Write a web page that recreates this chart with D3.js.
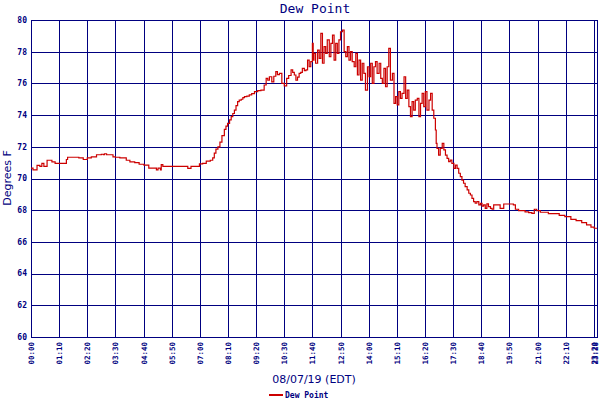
<!DOCTYPE html>
<html><head><meta charset="utf-8">
<script src="https://cdn.jsdelivr.net/npm/d3@7"></script>
<style>body{margin:0;background:#fff}svg{display:block}</style>
</head><body>
<script>
// ---- data ----
const minutes = [
0,5,15,22,27,32,40,52,60,88,91,119,130,140,150,163,175,180,183,188,204,210,221,237,246,258,269,281,293,312,316,322,324,328,390,398,419,427,436,446,452,456,460,465,470,475,481,485,489,494,498,502,506,510,514,518,523,527,531,537,543,549,556,564,572,580,585,589,593,599,604,609,613,618,624,630,636,641,647,651,655,659,663,667,671,675,680,684,
688,692,696,700,702,704,708,713,717,721,725,729,733,737,742,746,750,754,758,762,766,770,775,779,783,787,791,795,799,804,808,812,816,820,824,828,832,837,841,845,849,853,857,861,866,870,874,878,882,886,890,894,899,
903,907,911,915,919,923,928,932,936,940,944,948,952,956,961,965,969,973,977,981,985,990,994,998,1002,1006,1008,1010,1014,1018,1023,1027,1031,1035,1039,1043,1047,1052,1056,1060,1064,1068,1072,1076,1080,1085,1089,1093,1097,1101,1105,1109,1114,1118,
1122,1126,1130,1134,1138,1143,1147,1151,1163,1167,1176,1200,1205,1213,1229,1238,1246,1252,1258,1267,1287,1314,1328,1343,1356,1370,1382,1393,1401,1408];
const dewPoint = [
70.65,70.54,70.83,70.77,70.96,70.77,71.15,71.05,70.96,71.2,71.34,71.3,71.2,71.3,71.37,71.5,71.53,71.5,71.56,71.5,71.37,71.34,71.3,71.15,71.05,71.0,70.9,70.85,70.66,70.54,70.66,70.54,70.88,70.77,70.64,70.77,70.92,70.96,71.1,71.15,71.3,71.6,71.85,72.0,72.3,72.7,73.1,73.3,73.48,73.7,73.9,74.1,74.32,74.6,74.85,74.95,75.0,75.1,75.16,75.2,75.27,75.35,75.48,75.54,75.58,75.9,76.32,76.2,76.42,76.1,76.45,76.74,76.55,76.63,76.0,75.85,76.32,76.5,76.85,76.7,76.53,76.2,76.4,76.63,76.7,76.95,76.8,76.85,
77.47,77.05,77.37,78.53,77.47,77.9,77.27,78.1,77.58,79.16,77.27,78.32,77.9,78.74,77.69,78.53,79.05,77.47,78.53,77.9,78.74,79.26,79.37,78.0,77.69,78.32,77.47,78.0,77.37,77.05,77.9,76.53,77.47,76.21,77.27,76.63,75.58,77.05,76.42,77.27,76.0,77.05,77.37,76.63,77.27,76.32,76.0,76.95,75.79,77.05,78.21,76.21,76.63,
74.74,75.16,74.64,75.48,75.06,75.37,76.42,75.06,75.58,74.53,73.9,74.85,74.32,74.95,75.06,73.9,74.74,75.37,74.53,75.48,74.32,74.95,75.37,74.32,73.8,73.06,72.22,71.9,71.48,71.9,72.22,71.8,71.48,71.27,71.06,71.16,70.96,70.64,70.85,70.64,70.33,70.12,69.9,69.7,69.49,69.28,69.07,68.96,68.75,68.54,68.44,68.54,68.33,68.44,
68.26,68.33,68.12,68.4,68.23,68.12,68.06,68.33,68.33,68.12,68.39,68.33,68.06,67.97,67.9,67.85,67.8,68.06,67.97,67.87,67.78,67.67,67.6,67.42,67.34,67.21,67.08,66.93,66.86,66.86];
const tickMinutes = [0,70,140,210,280,350,420,490,560,630,700,770,840,910,980,1050,1120,1190,1260,1330,1400,1408];
const tickLabels = ["00:00","01:10","02:20","03:30","04:40","05:50","07:00","08:10","09:20","10:30","11:40","12:50","14:00","15:10","16:20","17:30","18:40","19:50","21:00","22:10","23:20","23:28"];
const yTicks = [60,62,64,66,68,70,72,74,76,78,80];
const title = "Dew Point";
const xTitle = "08/07/19 (EDT)";
const yTitle = "Degrees F";
const seriesName = "Dew Point";

// ---- chart ----
const W = 600, H = 400;
const navy = "#000080", red = "#cc0000";
const mono = "'DejaVu Sans Mono', 'Liberation Mono', monospace";
const sans = "'DejaVu Sans', sans-serif";
const svg = d3.select("body").append("svg").attr("width", W).attr("height", H);

const x = d3.scaleLinear().domain([0, 1408]).range([31, 597]);
const y = d3.scaleLinear().domain([60, 80]).range([337, 20]);
const px = v => Math.round(x(v)) + 0.5;

const g = svg.append("g");
// grid
g.selectAll("line.h").data(yTicks).join("line")
  .attr("x1", x(0)).attr("x2", px(1408))
  .attr("y1", d => Math.round(y(d)) + 0.5).attr("y2", d => Math.round(y(d)) + 0.5)
  .attr("stroke", navy).attr("stroke-width", 1);
g.selectAll("line.v").data(tickMinutes).join("line")
  .attr("x1", d => px(d)).attr("x2", d => px(d))
  .attr("y1", y(80)).attr("y2", y(60) + 1)
  .attr("stroke", navy).attr("stroke-width", 1);
// frame
g.append("rect").attr("x", px(0)).attr("y", 20.5).attr("width", px(1408) - px(0)).attr("height", 317)
  .attr("fill", "none").attr("stroke", navy).attr("stroke-width", 1);

// y labels
g.selectAll("text.yl").data(yTicks).join("text")
  .attr("x", 27).attr("y", d => y(d)).attr("dy", "0.35em")
  .attr("text-anchor", "end").attr("fill", navy)
  .style("font-family", mono).style("font-size", "8px").style("font-weight", "bold")
  .text(d => d);

// x labels
g.selectAll("text.xl").data(tickMinutes).join("text")
  .attr("transform", (d, i) => `translate(${i === tickMinutes.length - 1 ? px(d) - 2 : px(d)},342) rotate(-90)`)
  .attr("text-anchor", "end").attr("dy", "0.35em").attr("fill", navy)
  .style("font-family", mono).style("font-size", "7.5px").style("font-weight", "bold")
  .text((d, i) => tickLabels[i]);

// line
const pts = minutes.map((m, i) => [m, dewPoint[i]]);
const line = d3.line().x(d => x(d[0])).y(d => y(d[1])).curve(d3.curveStepAfter);
g.append("path").attr("d", line(pts)).attr("fill", "none").attr("stroke", red).attr("stroke-width", 1.2);

// titles
svg.append("text").attr("x", 315).attr("y", 13).attr("text-anchor", "middle").attr("fill", navy)
  .style("font-family", mono).style("font-size", "13px").text(title);
svg.append("text").attr("x", 314).attr("y", 383).attr("text-anchor", "middle").attr("fill", navy)
  .style("font-family", sans).style("font-size", "11px").text(xTitle);
svg.append("text").attr("transform", "translate(11,178) rotate(-90)").attr("text-anchor", "middle").attr("fill", navy)
  .style("font-family", sans).style("font-size", "11px").text(yTitle);

// legend
svg.append("line").attr("x1", 269).attr("x2", 283).attr("y1", 395).attr("y2", 395)
  .attr("stroke", red).attr("stroke-width", 2);
svg.append("text").attr("x", 285).attr("y", 395).attr("dy", "0.35em").attr("fill", navy)
  .style("font-family", mono).style("font-size", "8px").style("font-weight", "bold").text(seriesName);
</script>
</body></html>
